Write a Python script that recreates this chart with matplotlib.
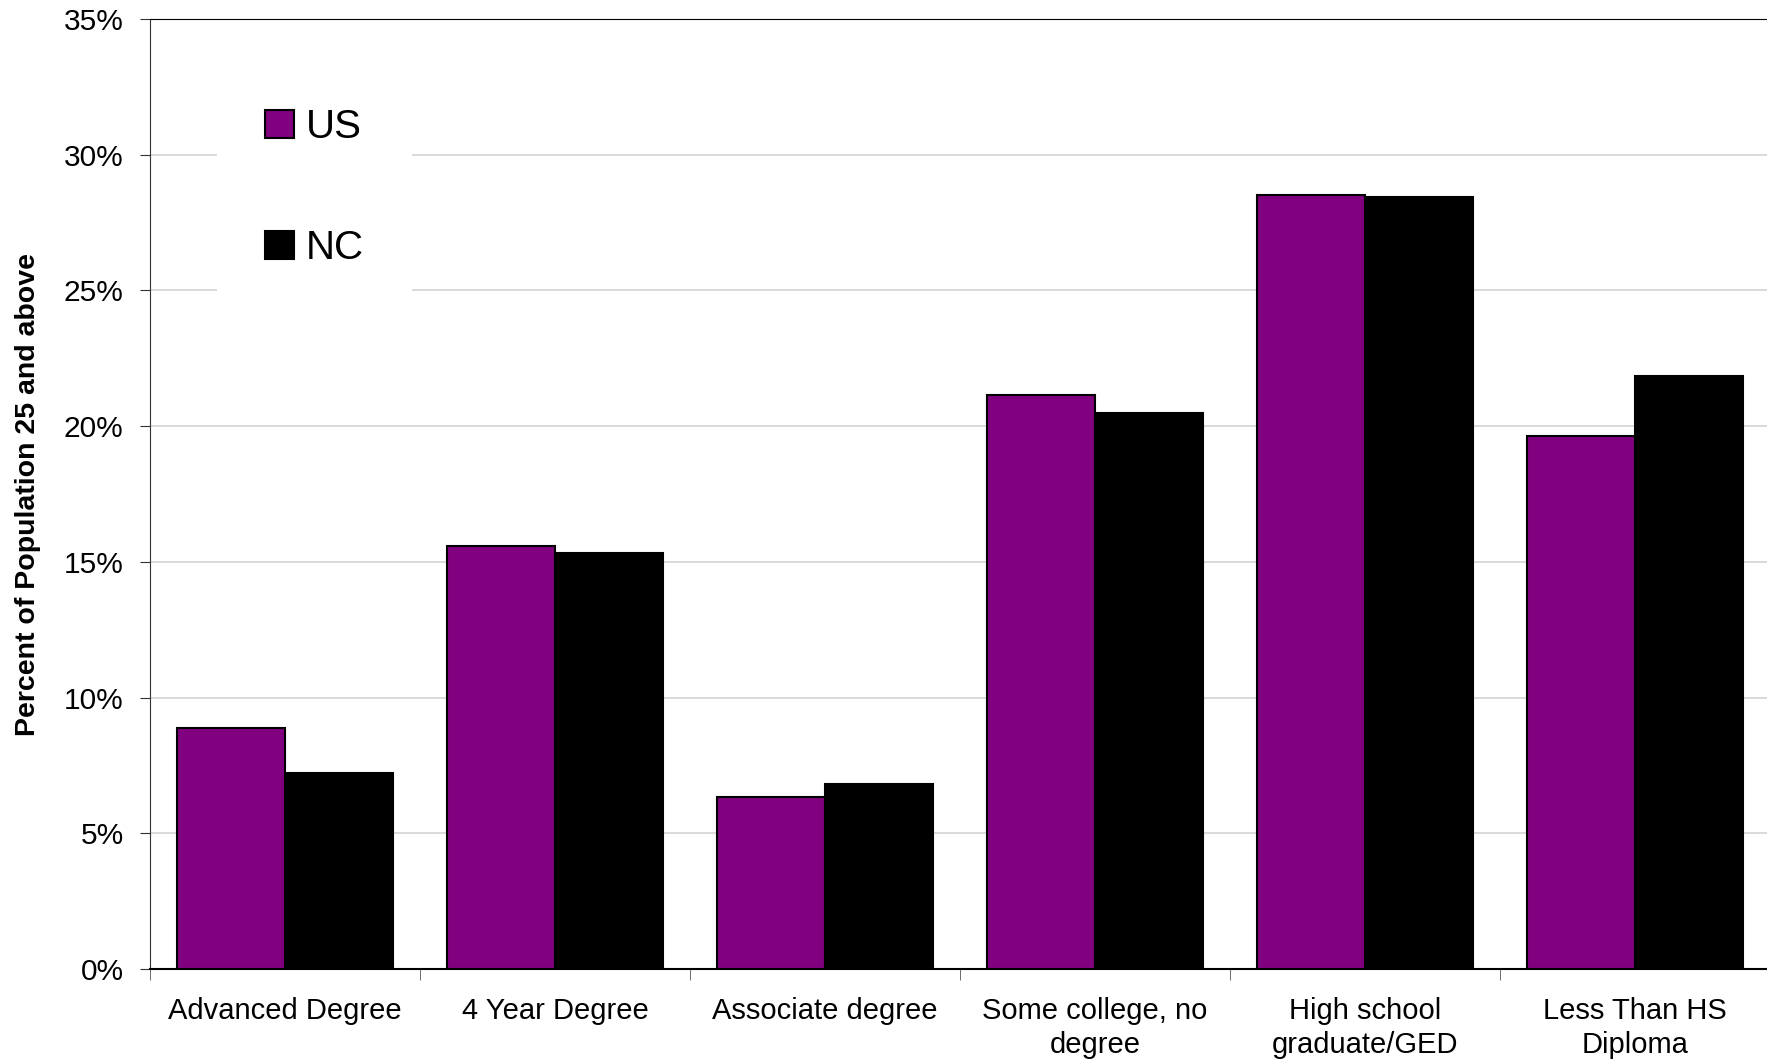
import numpy as np
import matplotlib
matplotlib.use("Agg")
import matplotlib.pyplot as plt
from matplotlib.ticker import FixedLocator, PercentFormatter

plt.rcParams["font.family"] = ["Liberation Sans", "DejaVu Sans"]

CATEGORIES = ["Advanced Degree", "4 Year Degree", "Associate degree",
              "Some college, no\ndegree", "High school\ngraduate/GED",
              "Less Than HS\nDiploma"]
US = [8.87, 15.57, 6.33, 21.13, 28.53, 19.63]
NC = [7.21, 15.32, 6.81, 20.47, 28.46, 21.86]

PURPLE = "#800080"

fig = plt.figure(figsize=(17.67, 10.63), dpi=100)
ax = fig.add_axes([150 / 1767, 1 - 969 / 1063, 1620 / 1767, 950 / 1063])

x = np.arange(len(CATEGORIES))
w = 0.4
ax.bar(x - w / 2, US, w, color=PURPLE, edgecolor="black", linewidth=1.5,
       label="US", zorder=3)
ax.bar(x + w / 2, NC, w, color="black", edgecolor="black", linewidth=1.5,
       label="NC", zorder=3)

ax.set_xlim(-0.5, len(CATEGORIES) - 0.5)
ax.set_ylim(0, 35)
ax.set_yticks(np.arange(0, 36, 5))
ax.yaxis.set_major_formatter(PercentFormatter(decimals=0))
ax.grid(axis="y", color="#d4d4d4", linewidth=1.2, zorder=0)

# category labels centred, ticks on the group boundaries
ax.set_xticks(x)
ax.set_xticklabels(CATEGORIES, fontsize=21, linespacing=1.3)
ax.xaxis.set_minor_locator(FixedLocator(np.arange(-0.5, len(CATEGORIES), 1)))
ax.tick_params(axis="x", which="major", length=0, pad=20)
ax.tick_params(axis="x", which="minor", length=8, color="#555555")
ax.tick_params(axis="y", length=7, labelsize=21.5, color="#333333", pad=12)

ax.set_ylabel("Percent of Population 25 and above", fontsize=20.5,
              fontweight="bold")
ax.yaxis.set_label_coords(-0.067, 0.5)

ax.spines["right"].set_visible(False)
ax.spines["left"].set_color("#333333")
ax.spines["top"].set_color("black")
ax.spines["bottom"].set_color("black")
ax.spines["bottom"].set_linewidth(1.5)

leg = ax.legend(loc="upper left", bbox_to_anchor=(0.029, 0.978), fontsize=29,
                frameon=True, edgecolor="none", facecolor="white", framealpha=1,
                labelspacing=2.05, handlelength=0.7, handleheight=0.7,
                handletextpad=0.3, borderpad=1.2, fancybox=False)
leg.set_zorder(5)

fig.savefig("out.png", dpi=100)
